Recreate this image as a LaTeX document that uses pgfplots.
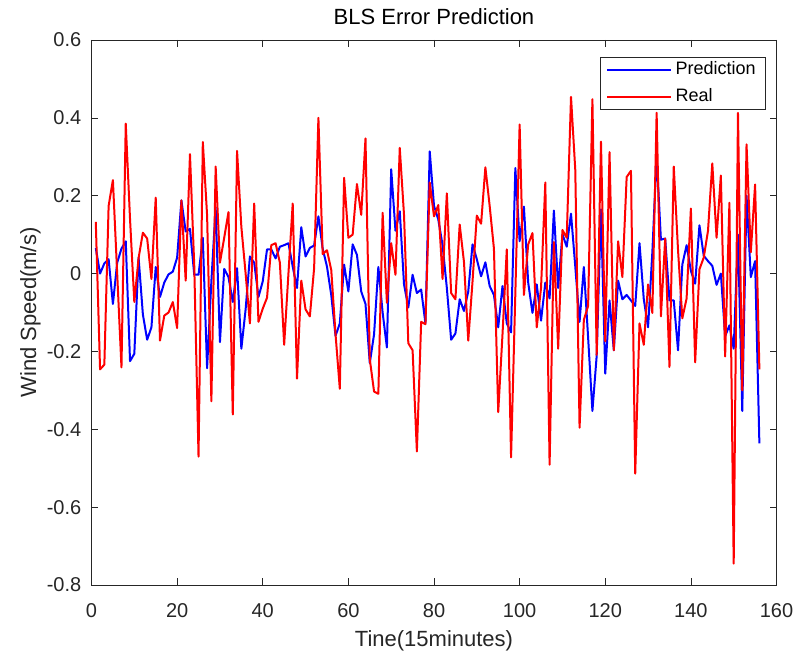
\documentclass[border=0pt]{standalone}
\usepackage{pgfplots}
\pgfplotsset{compat=1.18}
\usepackage{fontspec}
\setmainfont{Liberation Sans}
\definecolor{axgray}{RGB}{38,38,38}

% Error series, one value per 15-minute step
\pgfplotstableread{
t pred real
1 0.066 0.133
2 0.000 -0.246
3 0.026 -0.234
4 0.037 0.174
5 -0.078 0.240
6 0.028 0.000
7 0.064 -0.241
8 0.083 0.385
9 -0.225 0.140
10 -0.206 -0.073
11 0.041 0.040
12 -0.105 0.105
13 -0.170 0.090
14 -0.138 -0.014
15 0.017 0.195
16 -0.060 -0.172
17 -0.023 -0.108
18 -0.002 -0.100
19 0.005 -0.073
20 0.041 -0.140
21 0.188 0.188
22 0.108 -0.018
23 0.115 0.307
24 -0.003 0.020
25 -0.003 -0.470
26 0.092 0.338
27 -0.243 0.150
28 -0.020 -0.328
29 0.170 0.275
30 -0.176 0.028
31 0.012 0.092
32 -0.009 0.158
33 -0.073 -0.362
34 0.014 0.315
35 -0.193 0.120
36 -0.092 0.000
37 0.044 -0.128
38 0.028 0.180
39 -0.060 -0.124
40 -0.020 -0.090
41 0.062 -0.062
42 0.062 0.073
43 0.039 0.078
44 0.069 0.028
45 0.073 -0.183
46 0.078 0.000
47 0.018 0.180
48 -0.037 -0.270
49 0.119 -0.018
50 0.044 -0.092
51 0.066 -0.110
52 0.072 0.014
53 0.147 0.400
54 0.064 0.050
55 0.018 0.060
56 -0.055 0.009
57 -0.160 -0.156
58 -0.128 -0.296
59 0.023 0.246
60 -0.046 0.092
61 0.075 0.100
62 0.048 0.230
63 -0.046 0.151
64 -0.078 0.347
65 -0.230 -0.220
66 -0.156 -0.303
67 0.017 -0.309
68 -0.100 0.156
69 -0.190 -0.075
70 0.268 0.078
71 0.110 -0.003
72 0.160 0.323
73 -0.028 0.150
74 -0.087 -0.179
75 -0.003 -0.197
76 -0.050 -0.457
77 -0.041 -0.124
78 -0.128 -0.130
79 0.314 0.234
80 0.174 0.147
81 0.139 0.176
82 0.073 -0.014
83 -0.037 0.206
84 -0.170 -0.050
85 -0.154 -0.066
86 -0.066 0.126
87 -0.096 0.030
88 -0.046 -0.172
89 0.075 -0.020
90 0.037 0.149
91 -0.007 0.128
92 0.029 0.273
93 -0.032 0.174
94 -0.055 0.064
95 -0.138 -0.356
96 -0.032 -0.156
97 -0.128 0.062
98 -0.151 -0.472
99 0.271 -0.050
100 0.083 0.383
101 0.172 -0.055
102 -0.023 0.075
103 -0.101 0.104
104 -0.028 -0.138
105 -0.121 -0.037
106 -0.023 0.234
107 -0.064 -0.491
108 0.162 0.081
109 -0.037 -0.193
110 0.101 0.112
111 0.069 0.092
112 0.154 0.454
113 0.018 0.266
114 -0.124 -0.396
115 0.017 -0.119
116 -0.165 -0.083
117 -0.353 0.448
118 -0.211 -0.209
119 0.165 0.339
120 -0.257 -0.174
121 -0.069 0.312
122 -0.197 -0.197
123 -0.018 0.083
124 -0.066 -0.009
125 -0.055 0.248
126 -0.069 0.264
127 -0.083 -0.514
128 0.078 -0.128
129 -0.066 -0.183
130 -0.138 -0.028
131 0.055 -0.101
132 0.303 0.413
133 0.087 -0.110
134 0.090 0.090
135 -0.069 -0.240
136 -0.069 0.275
137 -0.197 0.060
138 0.023 -0.115
139 0.073 -0.064
140 0.007 0.167
141 -0.026 -0.228
142 0.124 0.011
143 0.046 0.041
144 0.032 0.110
145 0.020 0.283
146 -0.029 0.092
147 0.000 0.252
148 -0.161 -0.213
149 -0.133 0.182
150 -0.193 -0.745
151 0.100 0.413
152 -0.353 -0.300
153 0.200 0.332
154 -0.009 0.055
155 0.032 0.229
156 -0.436 -0.246
}\errdata

\begin{document}
\begin{tikzpicture}
\useasboundingbox (-91.5pt,-68pt) rectangle (710.5pt,585pt);
\begin{axis}[
  at={(0pt,0pt)}, anchor=south west,
  width=685pt, height=545pt, scale only axis,
  xmin=0, xmax=160, ymin=-0.8, ymax=0.6,
  xtick={0,20,40,60,80,100,120,140,160},
  ytick={-0.8,-0.6,-0.4,-0.2,0,0.2,0.4,0.6},
  yticklabels={-0.8,-0.6,-0.4,-0.2,0,0.2,0.4,0.6},
  /pgf/number format/assume math mode=true,
  tick align=inside,
  major tick length=7pt,
  axis line style={draw=axgray, line width=0.6pt},
  every tick/.style={draw=axgray, line width=0.6pt},
  tick label style={font=\fontsize{20}{24}\selectfont, text=axgray},
  xticklabel style={anchor=base, yshift=-32pt},
  yticklabel style={anchor=east, inner xsep=0pt, xshift=-10pt},
  title={BLS Error Prediction},
  title style={at={(axis description cs:0.5,1.0171)}, anchor=base,
    font=\fontsize{22}{26}\selectfont},
  xlabel={Tine(15minutes)},
  xlabel style={at={(axis description cs:0.5,-0.1132)}, anchor=base,
    font=\fontsize{22}{26}\selectfont, text=axgray},
  ylabel={Wind Speed(m/s)},
  ylabel style={at={(axis description cs:-0.081,0.5)}, anchor=base,
    rotate=0, font=\fontsize{22}{26}\selectfont, text=axgray},
  legend style={at={(axis description cs:1,1)}, anchor=north east,
    xshift=-11pt, yshift=-16.7pt, draw=axgray, line width=0.6pt,
    font=\fontsize{18}{21}\selectfont, inner xsep=6pt, inner ysep=2pt,
    nodes={inner xsep=3.5pt, inner ysep=2pt, text height=13pt, text depth=4pt},
    row sep=6pt},
  legend cell align=left,
  legend image code/.code={\draw[#1] (0pt,0pt) -- (64pt,0pt);},
]
\addplot[blue, line width=2pt, line join=round] table[x=t, y=pred] {\errdata};
\addlegendentry{Prediction}
\addplot[red, line width=2pt, line join=round] table[x=t, y=real] {\errdata};
\addlegendentry{Real}
\end{axis}
\end{tikzpicture}
\end{document}
